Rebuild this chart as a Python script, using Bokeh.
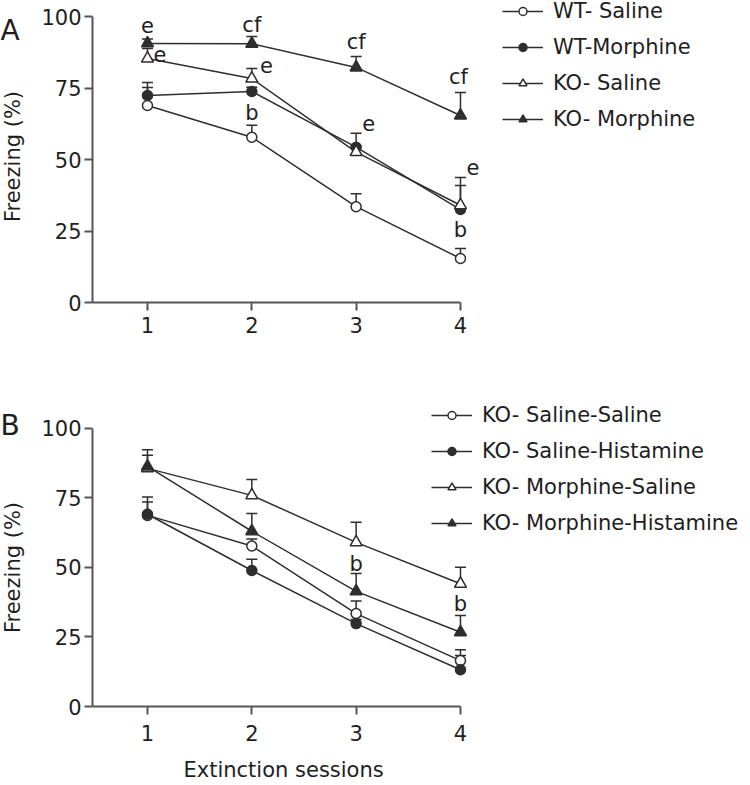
import math
from bokeh.plotting import figure
from bokeh.models import (ColumnDataSource, Whisker, TeeHead, Legend, LegendItem,
                          Label, Range1d, FixedTicker)
from bokeh.layouts import column, row
from bokeh.embed import file_html
from bokeh.resources import INLINE
from bokeh.core.properties import value

# ---------------- data ----------------
sessions = [1, 2, 3, 4]

# Panel A
a_labels = ["WT- Saline", "WT-Morphine", "KO- Saline", "KO- Morphine"]
wt_saline = [68.9, 57.8, 33.5, 15.4]
wt_saline_err = [6.3, 4.2, 4.5, 3.5]
wt_morphine = [72.4, 73.8, 54.3, 32.5]
wt_morphine_err = [4.5, 1.5, 4.9, 8.4]
ko_saline = [85.3, 78.3, 52.6, 34.0]
ko_saline_err = [3.5, 3.5, 2.0, 9.7]
ko_morphine = [90.6, 90.5, 82.2, 65.4]
ko_morphine_err = [1.5, 2.5, 3.8, 8.0]

a_sig_text = ["e", "e", "cf", "e", "b", "cf", "e", "cf", "e", "b"]
a_sig_x = [1.0, 1.12, 2.0, 2.14, 2.0, 3.0, 3.12, 3.98, 4.12, 4.0]
a_sig_y = [96.9, 86.9, 97.2, 82.9, 66.2, 91.0, 62.6, 78.8, 47.3, 25.2]

# Panel B
b_labels = ["KO- Saline-Saline", "KO- Saline-Histamine",
            "KO- Morphine-Saline", "KO- Morphine-Histamine"]
sal_sal = [68.7, 57.7, 33.4, 16.5]
sal_sal_err = [6.6, 2.5, 4.5, 3.9]
sal_his = [69.1, 48.9, 29.8, 13.2]
sal_his_err = [4.4, 4.0, 1.5, 5.1]
mor_sal = [85.6, 75.9, 59.0, 44.1]
mor_sal_err = [6.7, 5.7, 7.2, 6.0]
mor_his = [86.3, 63.0, 41.4, 26.7]
mor_his_err = [4.0, 6.4, 6.4, 6.0]

b_sig_text = ["b", "b"]
b_sig_x = [3.0, 4.0]
b_sig_y = [51.3, 36.9]

y_ticks = [0, 25, 50, 75, 100]
y_title = "Freezing (%)"
x_title = "Extinction sessions"

# ---------------- style ----------------
FONT = "DejaVu Sans"
INK = "#2e2e2e"
TXT = "#1e1e1e"
AX = "#555555"
FS = "21px"
MARKERS = [("circle", "white", 10), ("circle", INK, 10),
           ("triangle", "white", 12), ("triangle", INK, 12)]

STRIP_W = 30
MAIN_W = 715
LEFT = 62            # main figure left border -> y axis at x = 92
X0 = 0.473           # data x where the y axis sits
PX_PER_UNIT = 104.33
x_end = X0 + (MAIN_W - LEFT) / PX_PER_UNIT

H_A = 360
H_B = 390
H_BOT = 34


def style_axes(p, label_standoff):
    p.xgrid.visible = False
    p.ygrid.visible = False
    p.outline_line_color = None
    for ax in (p.xaxis[0], p.yaxis[0]):
        ax.axis_line_color = AX
        ax.axis_line_width = 2
        ax.major_tick_line_color = AX
        ax.major_tick_line_width = 2
        ax.major_tick_out = 8
        ax.major_tick_in = 0
        ax.minor_tick_out = 0
        ax.minor_tick_in = 0
        ax.major_label_text_font = FONT
        ax.major_label_text_font_size = FS
        ax.major_label_text_color = TXT
    p.xaxis[0].ticker = FixedTicker(ticks=sessions)
    p.xaxis[0].bounds = (X0, 4)
    p.xaxis[0].major_label_standoff = label_standoff
    p.yaxis[0].ticker = FixedTicker(ticks=y_ticks)
    p.yaxis[0].bounds = (0, 100)
    p.yaxis[0].major_label_standoff = 3


def add_series(p, labels, means, errs):
    items = []
    for lab, m, e, (mk, fill, sz) in zip(labels, means, errs, MARKERS):
        src = ColumnDataSource(dict(x=sessions, y=m,
                                    upper=[a + b for a, b in zip(m, e)]))
        w = Whisker(source=src, base="x", upper="upper", lower="y",
                    line_color=INK, line_width=1.5, level="underlay",
                    upper_head=TeeHead(size=11, line_color=INK, line_width=1.5),
                    lower_head=None)
        p.add_layout(w)
        ln = p.line("x", "y", source=src, line_color=INK, line_width=1.5)
        sc = p.scatter("x", "y", source=src, marker=mk, size=sz,
                       fill_color=fill, line_color=INK, line_width=1.5)
        items.append(LegendItem(label=lab, renderers=[ln, sc]))
    return items


def make_legend(items, loc):
    return Legend(items=items, location=loc, glyph_width=41, glyph_height=20,
                  label_height=25, label_standoff=10, spacing=11, padding=0,
                  margin=0, border_line_color=None, background_fill_alpha=0,
                  label_text_font=FONT, label_text_font_size=FS,
                  label_text_color=TXT)


def sig_text(p, xs, ys, txt):
    p.text(x=xs, y=ys, text=txt, text_font=value(FONT), text_font_size=FS,
           text_align="center", text_baseline="middle", text_color=TXT)


def blank(p):
    p.outline_line_color = None
    p.xgrid.visible = False
    p.ygrid.visible = False


# ---------------- panel A ----------------
pA = figure(width=MAIN_W, height=H_A, x_range=Range1d(X0, x_end),
            y_range=Range1d(0, 105.6), output_backend="svg",
            toolbar_location=None, min_border_left=LEFT, min_border_right=0,
            min_border_top=0, min_border_bottom=58)
style_axes(pA, 6)
itemsA = add_series(pA, a_labels,
                    [wt_saline, wt_morphine, ko_saline, ko_morphine],
                    [wt_saline_err, wt_morphine_err, ko_saline_err, ko_morphine_err])
sig_text(pA, a_sig_x, a_sig_y, a_sig_text)
pA.add_layout(make_legend(itemsA, (410, 170.5)))

# ---------------- panel B ----------------
pB = figure(width=MAIN_W, height=H_B, x_range=Range1d(X0, x_end),
            y_range=Range1d(0, 110), output_backend="svg",
            toolbar_location=None, min_border_left=LEFT, min_border_right=0,
            min_border_top=40, min_border_bottom=44)
style_axes(pB, 10)
itemsB = add_series(pB, b_labels,
                    [sal_sal, sal_his, mor_sal, mor_his],
                    [sal_sal_err, sal_his_err, mor_sal_err, mor_his_err])
sig_text(pB, b_sig_x, b_sig_y, b_sig_text)
pB.add_layout(make_legend(itemsB, (339, 170.5)))

# ---------------- left strip: panel letters and y titles ----------------
strip = figure(width=STRIP_W, height=H_A + H_B, x_range=Range1d(0, STRIP_W),
               y_range=Range1d(H_A + H_B, 0), output_backend="svg",
               toolbar_location=None, x_axis_location=None, y_axis_location=None,
               min_border=0)
blank(strip)
for txt, x, y in (("A", 0, 30), ("B", 0, 425)):
    strip.add_layout(Label(x=x, y=y, text=txt, text_font=FONT,
                           text_font_size="28px", text_color=TXT,
                           text_baseline="alphabetic", text_align="left"))
for y in (156, 567):
    strip.add_layout(Label(x=12.5, y=y, text=y_title, angle=math.pi / 2,
                           text_font=FONT, text_font_size=FS, text_color=TXT,
                           text_baseline="middle", text_align="center"))

# ---------------- bottom strip: x title ----------------
top_bot = H_A + H_B
bottom = figure(width=STRIP_W + MAIN_W, height=H_BOT,
                x_range=Range1d(0, STRIP_W + MAIN_W),
                y_range=Range1d(top_bot + H_BOT, top_bot), output_backend="svg",
                toolbar_location=None, x_axis_location=None,
                y_axis_location=None, min_border=0)
blank(bottom)
bottom.add_layout(Label(x=183, y=769, text=x_title, text_font=FONT,
                        text_font_size=FS, text_color=TXT,
                        text_baseline="middle", text_align="left"))

layout = column(row(strip, column(pA, pB)), bottom)
open("out.html", "w").write(file_html(layout, INLINE))
